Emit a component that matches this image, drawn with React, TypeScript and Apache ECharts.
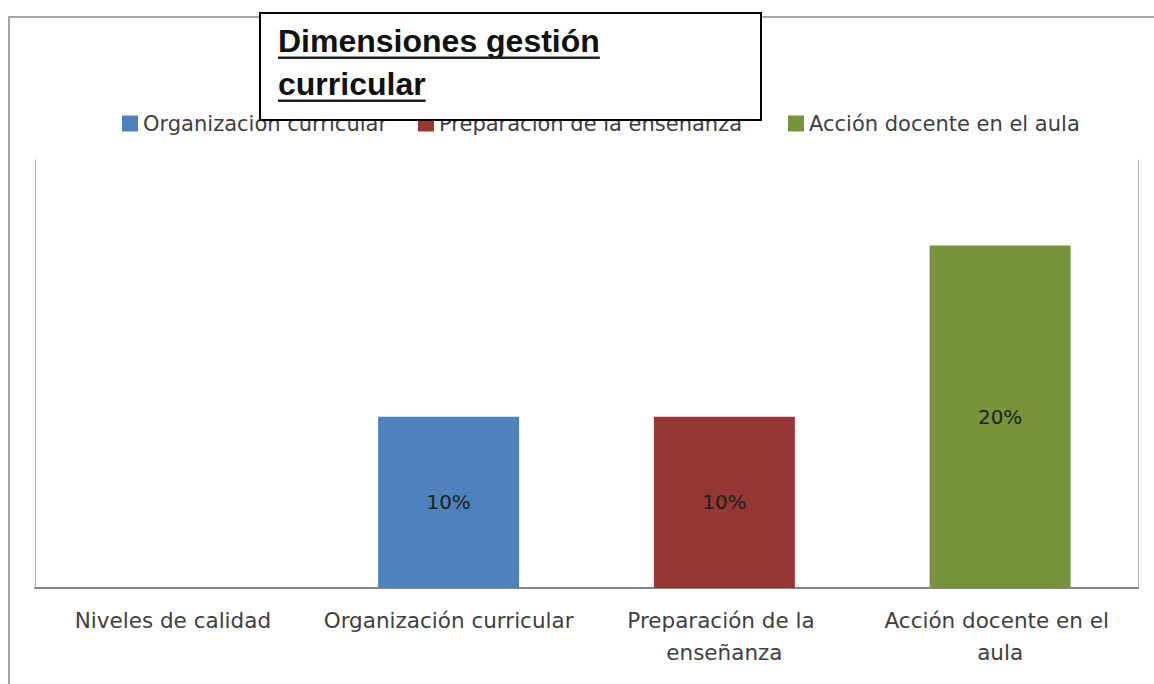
import React, { useEffect, useRef } from "react";
import * as echarts from "echarts";

const categories = [
  "Niveles de calidad",
  "Organización curricular",
  "Preparación de la enseñanza",
  "Acción docente en el aula",
];
const seriesNames = [
  "Organización curricular",
  "Preparación de la enseñanza",
  "Acción docente en el aula",
];
const organizacionValues = [null, 10, null, null];
const preparacionValues = [null, null, 10, null];
const accionValues = [null, null, null, 20];
const seriesColors = ["#4f81bd", "#953735", "#77933c"];
const titleLines = ["Dimensiones gestión", "curricular"];

const TITLE_FONT = 'bold 32px "Liberation Sans", Arial, sans-serif';

function measure(text: string, font: string): number {
  const c = document.createElement("canvas");
  const ctx = c.getContext("2d");
  if (!ctx) return text.length * 16;
  ctx.font = font;
  return ctx.measureText(text).width;
}

export default function App() {
  const ref = useRef<HTMLDivElement>(null);
  useEffect(() => {
    if (!ref.current) return;
    const chart = echarts.init(ref.current, undefined, { renderer: "svg" });
    const seriesData = [organizacionValues, preparacionValues, accionValues];
    const textFont = '"DejaVu Sans", sans-serif';
    const legendLefts = [117, 413, 783];
    const w1 = measure(titleLines[0], TITLE_FONT);
    const w2 = measure(titleLines[1], TITLE_FONT);
    chart.setOption({
      animation: false,
      backgroundColor: "#ffffff",
      grid: { left: 35, right: 16, top: 160, bottom: 96 },
      legend: seriesNames.map((n, i) => ({
        data: [n],
        left: legendLefts[i],
        top: 108,
        icon: "rect",
        itemWidth: 16,
        itemHeight: 16,
        itemGap: 5,
        textStyle: { fontFamily: textFont, fontSize: 21, color: "#404040" },
        z: 4,
      })),
      xAxis: {
        type: "category",
        data: categories,
        axisLine: { show: true, lineStyle: { color: "#868686", width: 2 } },
        axisTick: { show: false },
        axisLabel: {
          interval: 0,
          margin: 16,
          fontFamily: textFont,
          fontSize: 21.5,
          lineHeight: 32,
          color: "#404040",
          width: 262,
          overflow: "break",
        },
      },
      yAxis: [
        {
          type: "value",
          min: 0,
          max: 25,
          position: "left",
          axisLine: { show: true, lineStyle: { color: "#b3b3b3", width: 1 } },
          axisTick: { show: false },
          axisLabel: { show: false },
          splitLine: { show: false },
        },
        {
          type: "value",
          min: 0,
          max: 25,
          position: "right",
          axisLine: { show: true, lineStyle: { color: "#b3b3b3", width: 1 } },
          axisTick: { show: false },
          axisLabel: { show: false },
          splitLine: { show: false },
        },
      ],
      series: seriesNames.map((n, i) => ({
        name: n,
        type: "bar",
        stack: "all",
        data: seriesData[i],
        barWidth: 141,
        itemStyle: { color: seriesColors[i] },
        label: {
          show: true,
          position: "inside",
          formatter: "{c}%",
          fontFamily: textFont,
          fontSize: 20,
          color: "#1e1e1e",
        },
      })),
      graphic: [
        {
          type: "rect",
          z: 0,
          silent: true,
          shape: { x: 9, y: 17, width: 1300, height: 800 },
          style: { fill: "none", stroke: "#a6a6a6", lineWidth: 2 },
        },
        {
          type: "group",
          z: 100,
          children: [
            {
              type: "rect",
              z: 100,
              shape: { x: 260, y: 13, width: 501, height: 107 },
              style: { fill: "#ffffff", stroke: "#000000", lineWidth: 2 },
            },
            {
              type: "text",
              z: 101,
              x: 278,
              y: 41,
              style: {
                text: titleLines[0],
                font: TITLE_FONT,
                fill: "#111111",
                verticalAlign: "middle",
                align: "left",
              },
            },
            {
              type: "rect",
              z: 101,
              shape: { x: 278, y: 56.5, width: w1, height: 2.5 },
              style: { fill: "#222222" },
            },
            {
              type: "text",
              z: 101,
              x: 278,
              y: 84,
              style: {
                text: titleLines[1],
                font: TITLE_FONT,
                fill: "#111111",
                verticalAlign: "middle",
                align: "left",
              },
            },
            {
              type: "rect",
              z: 101,
              shape: { x: 278, y: 99.5, width: w2, height: 2.5 },
              style: { fill: "#222222" },
            },
          ],
        },
      ],
    });
    return () => chart.dispose();
  }, []);
  return (
    <div
      ref={ref}
      style={{ position: "absolute", left: 0, top: 0, width: 1154, height: 684 }}
    />
  );
}
